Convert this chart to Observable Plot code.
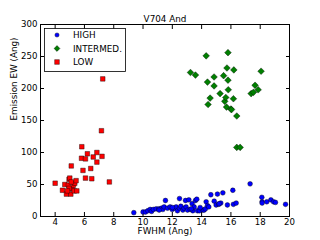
<!DOCTYPE html>
<html><head><meta charset="utf-8">
<script src="https://cdn.jsdelivr.net/npm/d3@7"></script>
<script src="https://cdn.jsdelivr.net/npm/@observablehq/plot@0.6"></script>
<style>
html,body{margin:0;padding:0;background:#fff;}
#chart{position:relative;width:320px;height:240px;}
</style>
</head><body><div id="chart"></div>
<script>
const title = "V704 And";
const xLabel = "FWHM (Ang)";
const yLabel = "Emission EW (Ang)";
const categories = ["HIGH", "INTERMED.", "LOW"];
const colors = ["#0000ff", "#007f00", "#ff0000"];
const xTicks = [4, 6, 8, 10, 12, 14, 16, 18, 20];
const yTicks = [0, 50, 100, 150, 200, 250, 300];

const highX = [9.37,10.0,10.17,10.33,10.49,10.58,10.71,10.9,11.08,11.26,11.35,11.44,11.53,11.67,11.85,11.99,12.12,12.26,12.35,12.49,12.49,12.58,12.72,12.8,12.9,12.94,13.04,13.13,13.22,13.35,13.4,13.49,13.58,13.67,13.72,13.85,14.08,14.17,14.26,14.31,14.4,14.49,14.63,14.86,14.99,15.08,15.17,15.31,15.45,15.76,16.13,16.17,16.36,17.31,18.11,18.13,18.13,18.45,18.73,18.91,19.04,19.73,11.1,12.0,13.3,13.9,15.2];
const highY = [6,7,7,9,11,8,11,12,12,13,11,15,25,13,15,11,13,15,9,28,13,16,10,13,25,15,10,26,11,20,9,15,25,27,9,9,10,10,12,23,17,15,34,24,18,35,19,21,37,18,41,19,21,51,30,23,21,23,26,23,22,19,10,14,12,14,20];

const interX = [13.24,13.58,14.31,14.4,14.44,14.58,14.85,14.85,15.26,15.5,15.58,15.65,15.7,15.73,15.8,15.8,15.82,16.0,16.04,16.17,16.2,16.4,16.4,16.63,17.38,17.54,17.65,17.86,18.06];
const interY = [225,221,251,210,175,185,204,218,192,220,180,186,171,232,256,213,198,168,167,184,229,157,108,108,192,194,205,198,227];

const lowX = [4.0,4.5,4.66,4.77,4.9,4.95,5.0,5.07,5.1,5.16,5.25,5.3,5.34,5.43,5.48,4.95,4.84,5.1,5.82,5.8,5.9,6.07,6.07,6.2,6.43,6.5,6.6,6.85,6.85,7.2,7.16,7.25,7.7];
const lowY = [52,41,50,35,49,58,60,35,79,43,49,40,52,56,40,44,40,54,109,91,72,90,60,98,75,59,93,100,85,94,134,215,54];

const high = highX.map((x, i) => ({x, y: highY[i]}));
const inter = interX.map((x, i) => ({x, y: interY[i]}));
const low = lowX.map((x, i) => ({x, y: lowY[i]}));

const font = "DejaVu Sans, sans-serif";
const W = 320, H = 240;
const blank = () => "";
const plot = Plot.plot({
  width: W, height: H,
  marginLeft: 40, marginRight: 31, marginTop: 24, marginBottom: 24,
  style: {fontFamily: font, fontSize: "8.6px", color: "#000", background: "#fff"},
  x: {domain: [3, 20]},
  y: {domain: [0, 300]},
  marks: [
    Plot.frame({stroke: "#000", strokeWidth: 1}),
    // labels
    Plot.axisX({ticks: xTicks, tickSize: 0, tickPadding: 2, tickFormat: d => d, label: null}),
    Plot.axisY({ticks: yTicks, tickSize: 0, tickPadding: 3, tickFormat: d => d, label: null}),
    // inward ticks on all four sides
    Plot.axisX({ticks: xTicks, tickSize: -4, tickFormat: blank, label: null}),
    Plot.axisX({anchor: "top", ticks: xTicks, tickSize: -4, tickFormat: blank, label: null}),
    Plot.axisY({ticks: yTicks, tickSize: -4, tickFormat: blank, label: null}),
    Plot.axisY({anchor: "right", ticks: yTicks, tickSize: -4, tickFormat: blank, label: null}),
    Plot.dot(high, {x: "x", y: "y", r: 2.4, fill: colors[0], stroke: "#000", strokeWidth: 0.4, symbol: "circle"}),
    Plot.dot(inter, {x: "x", y: "y", r: 3.0, fill: colors[1], stroke: "#000", strokeWidth: 0.4, symbol: "diamond2"}),
    Plot.dot(low, {x: "x", y: "y", r: 2.6, fill: colors[2], stroke: "#000", strokeWidth: 0.4, symbol: "square"}),
    Plot.text([title], {frameAnchor: "top", dy: -9, text: d => d, fontSize: 8.8, fill: "#000"}),
    Plot.text([xLabel], {frameAnchor: "bottom", dy: 17, text: d => d, fontSize: 8.8, fill: "#000"}),
    Plot.text([yLabel], {frameAnchor: "left", dx: -26, rotate: -90, text: d => d, fontSize: 8.8, fill: "#000"})
  ]
});
document.getElementById("chart").appendChild(plot);

// legend box
const svg = d3.select(plot);
const lg = svg.append("g");
lg.append("rect").attr("x", 44.5).attr("y", 28.5).attr("width", 81).attr("height", 43)
  .attr("fill", "#fff").attr("stroke", "#000").attr("stroke-width", 0.8);
const sym = [d3.symbolCircle, d3.symbolDiamond2, d3.symbolSquare];
const sizes = [14, 22, 22];
categories.forEach((c, i) => {
  const y = 35 + i * 13.5;
  lg.append("path").attr("d", d3.symbol(sym[i], sizes[i])())
    .attr("transform", `translate(57,${y})`).attr("fill", colors[i]).attr("stroke", "#000").attr("stroke-width", 0.4);
  lg.append("text").attr("x", 73).attr("y", y).attr("dy", "0.35em").attr("text-anchor", "start")
    .attr("font-family", font).attr("font-size", "8.8px").attr("fill", "#000").text(c);
});
</script>
</body></html>
